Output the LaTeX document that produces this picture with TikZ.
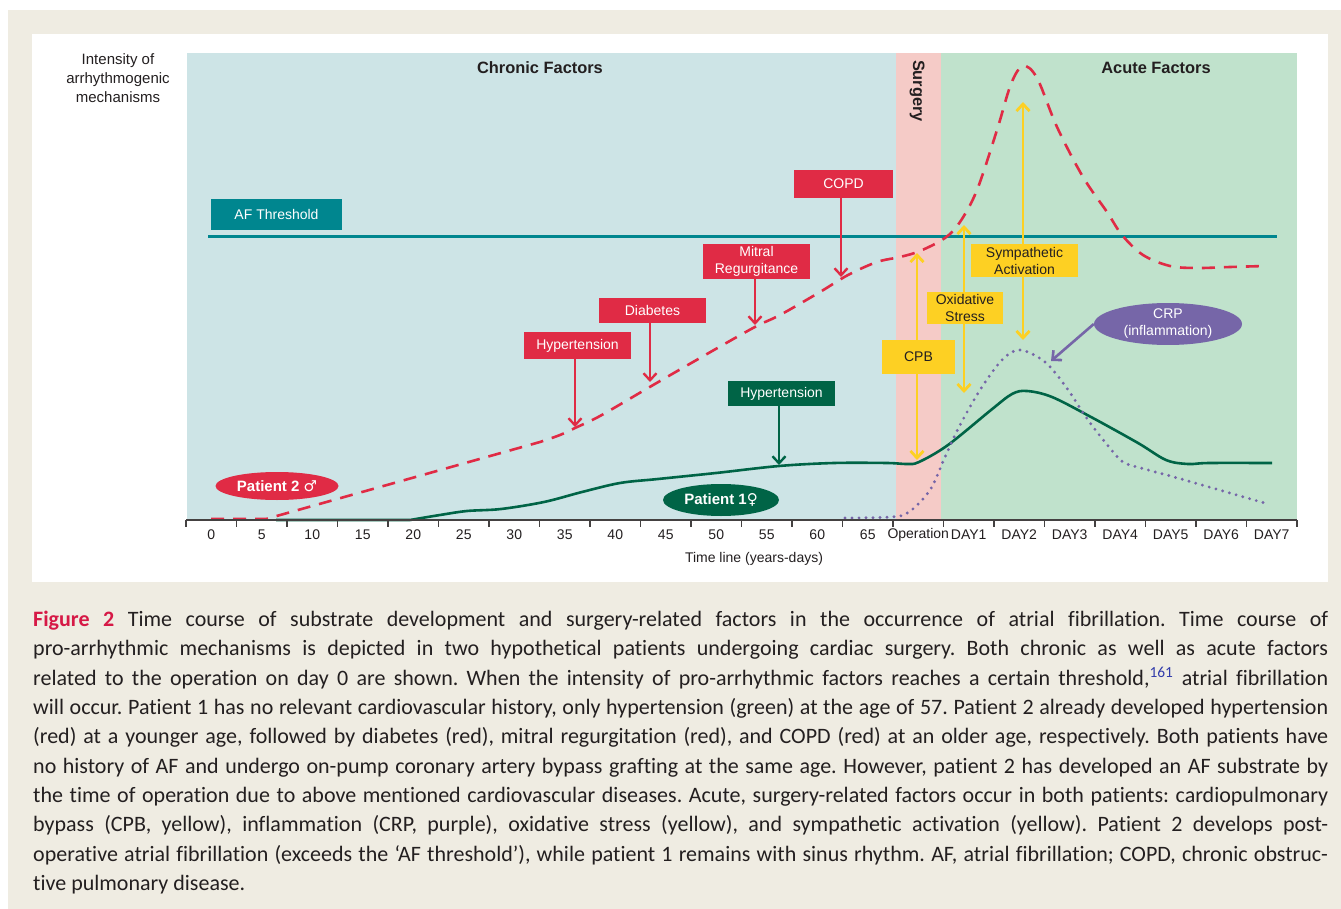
\documentclass[tikz,border=0pt]{standalone}
\usepackage{fontspec}
\setmainfont{Liberation Sans}
\newfontfamily\capfont[Ligatures=NoCommon]{Carlito}
\newfontfamily\symfont{DejaVu Sans}
\usetikzlibrary{arrows.meta,shapes.geometric}
\definecolor{beige}{RGB}{239,236,226}
\definecolor{chronbg}{RGB}{205,228,230}
\definecolor{surgbg}{RGB}{245,203,199}
\definecolor{acutebg}{RGB}{192,226,204}
\definecolor{afteal}{RGB}{0,134,143}
\definecolor{redc}{RGB}{224,43,69}
\definecolor{dgreen}{RGB}{0,100,70}
\definecolor{yel}{RGB}{253,208,35}
\definecolor{purp}{RGB}{118,102,168}
\definecolor{txt}{RGB}{35,31,32}
\definecolor{figred}{RGB}{214,25,70}
\definecolor{refblue}{RGB}{50,60,170}
\newcommand\fA{\fontsize{14}{17}\selectfont}
\newcommand\fB{\fontsize{16.4}{19}\selectfont\bfseries}
\newcommand\fI{\fontsize{15}{19}\selectfont}
\tikzset{
  lbl/.style={font=\fA, text=txt, inner sep=0pt},
  hdr/.style={font=\fB, text=txt, inner sep=0pt},
  redbox/.style={fill=redc, text=white, font=\fA, inner sep=0pt, align=center},
  grnbox/.style={fill=dgreen, text=white, font=\fA, inner sep=0pt, align=center},
  yelbox/.style={fill=yel, text=txt, font=\fA, inner sep=0pt, align=center},
  tealbox/.style={fill=afteal, text=white, font=\fA, inner sep=0pt},
  tipA/.style={-{Straight Barb[length=7pt,width=13pt]}},
  redarrow/.style={draw=redc, line width=2.4pt, tipA},
  grnarrow/.style={draw=dgreen, line width=2.4pt, tipA},
  yelarrow/.style={draw=yel, line width=2.8pt, tipA},
  purarrow/.style={draw=purp, line width=2.6pt, tipA},
  patient/.style={ellipse, inner sep=0pt, text=white, font=\fontsize{15}{18}\selectfont\bfseries},
  tick/.style={draw=txt!85, line width=1.4pt},
}
\begin{document}
\begin{tikzpicture}[x=1pt,y=-1pt]
\useasboundingbox (0,0) rectangle (1341,909);
\fill[white] (0,0) rectangle (1341,909);
\fill[beige] (8,10) rectangle (1341,909);
\fill[white] (32,34) rectangle (1328,582);
% background regions
\fill[chronbg] (187,53) rectangle (896,520);
\fill[surgbg] (896,53) rectangle (941,520);
\fill[acutebg] (941,53) rectangle (1297,520);
% headers
\node[hdr] (chronic) at (540,68) {Chronic Factors};
\node[hdr] (acute) at (1156,68) {Acute Factors};
\node[hdr, rotate=-90] (surgery) at (917,91) {Surgery};
\node[font=\fI, text=txt, align=center, inner sep=0pt] (ylab) at (118,78) {Intensity of\\arrhythmogenic\\mechanisms};
% threshold
\coordinate (thrL) at (208,237);
\coordinate (thrR) at (1277,237);
\draw[afteal, line width=3pt] (thrL) -- (thrR);
\node[tealbox, minimum width=131pt, minimum height=31pt] (afthr) at (276.5,214.5) {AF Threshold};
% curves
\draw[redc, line width=2.6pt, dash pattern=on 13pt off 9pt]
  (211,519) -- (266,519) -- (540,442)
  -- plot[smooth, tension=0.55] coordinates {(540,442) (560,435) (575,428) (600,416) (648,388) (693,362) (753,328) (780,315) (820,292) (848,275) (877,262) (900,257) (920,251) (945,238) (960,222) (977,190) (997,130) (1011,84) (1023,66) (1037,78) (1057,127) (1083,177) (1107,212) (1122,235) (1143,255) (1170,266) (1197,268) (1230,267) (1265,266)};
\draw[dgreen, line width=2.6pt]
  (276,520) -- (410,520)
  -- plot[smooth, tension=0.55] coordinates {(410,520) (440,515) (467,511) (501,509) (544,502) (582,492) (620,483) (658,479) (716,473) (779,466) (834,463) (887,463) (907,464) (919,462) (948,445) (991,410) (1012,394) (1027,391) (1052,397) (1091,417) (1138,443) (1166,460) (1188,464) (1209,463) (1272,463)};
\draw[purp, line width=3.2pt, line cap=round, dash pattern=on 0pt off 7pt]
  plot[smooth, tension=0.55] coordinates {(845,518) (891,517) (909,512) (930,490) (945,457) (959,427) (980,390) (1002,360) (1020,350) (1045,362) (1066,387) (1088,420) (1109,447) (1123,462) (1141,468) (1174,477) (1209,487) (1268,504)};
% chronic factor boxes and arrows
\node[redbox, minimum width=99pt, minimum height=28pt] (copd) at (843.5,184) {COPD};
\node[redbox, minimum width=107pt, minimum height=35pt] (mitral) at (756.5,261.5) {Mitral\\Regurgitance};
\node[redbox, minimum width=107pt, minimum height=25pt] (diab) at (652.5,310.5) {Diabetes};
\node[redbox, minimum width=107pt, minimum height=27pt] (hyp2) at (577.5,345.5) {Hypertension};
\node[grnbox, minimum width=107pt, minimum height=25pt] (hyp1) at (781.5,393.5) {Hypertension};
\coordinate (tCopd) at (841,277);
\coordinate (tMitral) at (755,325);
\coordinate (tDiab) at (650,382);
\coordinate (tHyp2) at (575,427);
\coordinate (tHyp1) at (779,465);
\draw[redarrow] (copd.south -| tCopd) -- (tCopd);
\draw[redarrow] (mitral.south -| tMitral) -- (tMitral);
\draw[redarrow] (diab.south -| tDiab) -- (tDiab);
\draw[redarrow] (hyp2.south -| tHyp2) -- (tHyp2);
\draw[grnarrow] (hyp1.south -| tHyp1) -- (tHyp1);
% acute factor boxes and arrows
\node[yelbox, minimum width=73pt, minimum height=34pt] (cpb) at (918.5,357) {CPB};
\node[yelbox, minimum width=76pt, minimum height=32pt] (oxid) at (965,308) {Oxidative\\Stress};
\node[yelbox, minimum width=107pt, minimum height=33pt] (symp) at (1024.5,260.5) {Sympathetic\\Activation};
\coordinate (cpbT) at (917,253);
\coordinate (cpbB) at (917,460);
\coordinate (oxT) at (964,225);
\coordinate (oxB) at (964,393);
\coordinate (syT) at (1023,102);
\coordinate (syB) at (1023,340);
\draw[yelarrow] (cpb.north -| cpbT) -- (cpbT);
\draw[yelarrow] (cpb.south -| cpbB) -- (cpbB);
\draw[yelarrow] (oxid.north -| oxT) -- (oxT);
\draw[yelarrow] (oxid.south -| oxB) -- (oxB);
\draw[yelarrow] (symp.north -| syT) -- (syT);
\draw[yelarrow] (symp.south -| syB) -- (syB);
\node[ellipse, fill=purp, text=white, font=\fA, align=center, inner sep=0pt, minimum width=148pt, minimum height=40pt] (crp) at (1168,324) {CRP\\(inflammation)};
\coordinate (tCrp) at (1051,361);
\draw[purarrow] (crp.west) -- (tCrp);
% patients
\node[patient, fill=redc, minimum width=123pt, minimum height=28pt] (pat2) at (277,486) {Patient 2 {\symfont\bfseries ♂}};
\node[patient, fill=dgreen, minimum width=116pt, minimum height=32pt] (pat1) at (721,500) {Patient 1{\symfont\bfseries ♀}};
% axis
\coordinate (axL) at (186,520);
\coordinate (axR) at (1297,520);
\draw[tick] (axL) -- (axR);
\foreach \i in {0,...,22} \draw[tick] (186+50.5*\i,520) -- ++(0,7);
\foreach \l [count=\i from 0] in {0,5,10,15,20,25,30,35,40,45,50,55,60,65,Operation,DAY1,DAY2,DAY3,DAY4,DAY5,DAY6,DAY7}
  \node[lbl] (tl\i) at (186+50.5*\i+25.25,535) {\l};
\node[lbl] (xlab) at (754,559) {Time line (years-days)};
% caption
\node[anchor=north west, inner sep=0pt] (caption) at (33,611) {\parbox[t]{1295pt}{\capfont\fontsize{22}{29.3}\selectfont\color{txt}\frenchspacing\tolerance=10000\hbadness=10000
{\bfseries\color{figred}Figure 2} Time course of substrate development and surgery-related factors in the occurrence of atrial fibrillation. Time course of\linebreak
pro-arrhythmic mechanisms is depicted in two hypothetical patients undergoing cardiac surgery. Both chronic as well as acute factors\linebreak
related to the operation on day 0 are shown. When the intensity of pro-arrhythmic factors reaches a certain threshold,\textsuperscript{\color{refblue}161} atrial fibrillation\linebreak
will occur. Patient 1 has no relevant cardiovascular history, only hypertension (green) at the age of 57. Patient 2 already developed hypertension\linebreak
(red) at a younger age, followed by diabetes (red), mitral regurgitation (red), and COPD (red) at an older age, respectively. Both patients have\linebreak
no history of AF and undergo on-pump coronary artery bypass grafting at the same age. However, patient 2 has developed an AF substrate by\linebreak
the time of operation due to above mentioned cardiovascular diseases. Acute, surgery-related factors occur in both patients: cardiopulmonary\linebreak
bypass (CPB, yellow), inflammation (CRP, purple), oxidative stress (yellow), and sympathetic activation (yellow). Patient 2 develops post-\linebreak
operative atrial fibrillation (exceeds the ‘AF threshold’), while patient 1 remains with sinus rhythm. AF, atrial fibrillation; COPD, chronic obstruc-\linebreak
tive pulmonary disease.}};
\end{tikzpicture}
\end{document}
